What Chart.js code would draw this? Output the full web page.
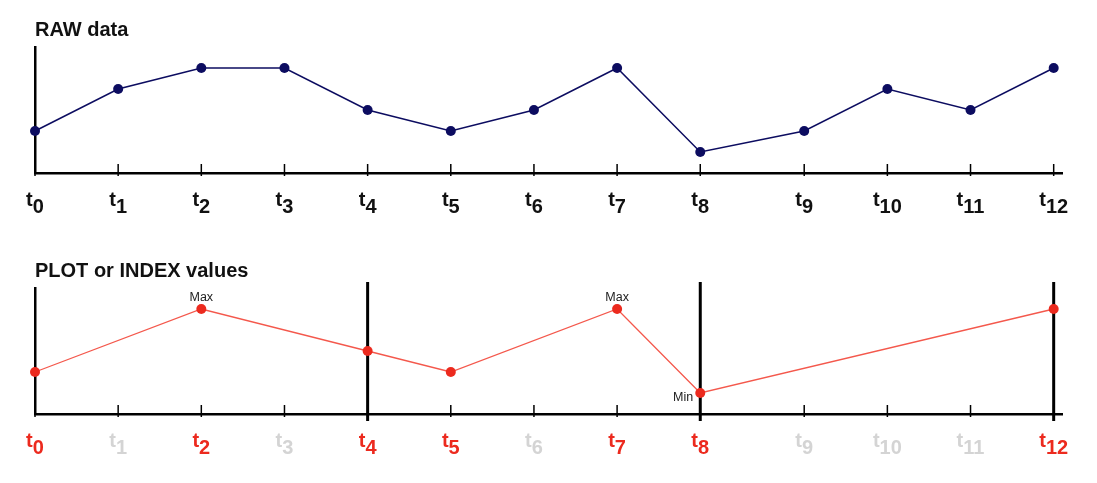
<!DOCTYPE html>
<html>
<head>
<meta charset="utf-8">
<script src="https://cdn.jsdelivr.net/npm/chart.js@4.4.0/dist/chart.umd.min.js"></script>
<style>
html, body { margin: 0; padding: 0; background: #fff; }
body { width: 1097px; height: 483px; position: relative; overflow: hidden; }
.box { position: absolute; left: 0; width: 1097px; height: 241px; }
</style>
</head>
<body>
<div class="box" style="top:0"><canvas id="rawChart" width="1097" height="241"></canvas></div>
<div class="box" style="top:241px"><canvas id="plotChart" width="1097" height="241"></canvas></div>
<script>
// time steps t0..t12 (t9 onwards sits a bit further right in the original)
var tickLabels = ['0', '1', '2', '3', '4', '5', '6', '7', '8', '9', '10', '11', '12'];
var tickPositions = [0, 1, 2, 3, 4, 5, 6, 7, 8, 9.25, 10.25, 11.25, 12.25];

// raw series and the plotted (index) subset
var rawValues = [1, 3, 4, 4, 2, 1, 2, 4, 0, 1, 3, 2, 4];
var plotValues = [1, null, 4, null, 2, 1, null, 4, 0, null, null, null, 4];
var plotMarkers = ['', '', 'Max', '', '', '', '', 'Max', 'Min', '', '', '', ''];
var dividerSteps = [4, 8, 12];

var FONT = "'Liberation Sans', Arial, Helvetica, sans-serif";

var tAxisPlugin = {
    id: 'tAxis',
    beforeDatasetsDraw: function (chart, args, opts) {
        var ctx = chart.ctx, xs = chart.scales.x, area = chart.chartArea;
        ctx.save();
        ctx.strokeStyle = '#000';
        ctx.lineWidth = 3;
        (opts.dividers || []).forEach(function (i) {
            var px = xs.getPixelForValue(tickPositions[i]);
            ctx.beginPath();
            ctx.moveTo(px, area.top - 6);
            ctx.lineTo(px, area.bottom + 7);
            ctx.stroke();
        });
        ctx.restore();
    },
    afterDraw: function (chart, args, opts) {
        var ctx = chart.ctx, xs = chart.scales.x, ys = chart.scales.y;
        var axisY = chart.chartArea.bottom;
        ctx.save();
        // tick marks
        ctx.strokeStyle = '#000';
        ctx.lineWidth = 1.5;
        tickPositions.forEach(function (v) {
            var px = xs.getPixelForValue(v);
            ctx.beginPath();
            ctx.moveTo(px, axisY - 9);
            ctx.lineTo(px, axisY + 3);
            ctx.stroke();
        });
        // t with subscript labels
        ctx.textAlign = 'left';
        ctx.textBaseline = 'alphabetic';
        tickLabels.forEach(function (num, i) {
            var px = xs.getPixelForValue(tickPositions[i]);
            ctx.font = 'bold 20px ' + FONT;
            var wT = ctx.measureText('t').width;
            var wN = ctx.measureText(num).width;
            var x0 = px - (wT + wN) / 2;
            ctx.fillStyle = opts.labelColor(i);
            ctx.fillText('t', x0, axisY + 33);
            ctx.fillText(num, x0 + wT, axisY + 40);
        });
        // Max / Min notes
        ctx.font = '12.5px ' + FONT;
        ctx.fillStyle = '#222';
        (opts.markers || []).forEach(function (m, i) {
            if (!m) return;
            var px = xs.getPixelForValue(tickPositions[i]);
            var py = ys.getPixelForValue(plotValues[i]);
            if (m === 'Min') {
                ctx.textAlign = 'right';
                ctx.fillText(m, px - 7, py + 8);
            } else {
                ctx.textAlign = 'center';
                ctx.fillText(m, px, py - 8.5);
            }
        });
        ctx.restore();
    }
};

function makeChart(id, title, values, lineColor, pointColor, lineWidth, axisOpts) {
    var ctx = document.getElementById(id).getContext('2d');
    return new Chart(ctx, {
        type: 'line',
        data: {
            datasets: [{
                label: title,
                data: tickPositions.map(function (x, i) { return { x: x, y: values[i] }; }),
                borderColor: lineColor,
                borderWidth: lineWidth,
                pointBackgroundColor: pointColor,
                pointBorderColor: pointColor,
                pointBorderWidth: 0,
                pointRadius: 5,
                spanGaps: true,
                tension: 0,
                clip: false
            }]
        },
        options: {
            responsive: false,
            animation: false,
            events: [],
            layout: {
                autoPadding: false,
                padding: { top: 18, left: 35, right: 35, bottom: 68 }
            },
            scales: {
                x: {
                    type: 'linear',
                    min: 0,
                    max: 12.35,
                    grid: { display: false },
                    ticks: { display: false },
                    border: { display: true, color: '#000', width: 2.5 },
                    afterFit: function (s) { s.height = 0; }
                },
                y: {
                    min: -1,
                    max: 5,
                    grid: { display: false },
                    ticks: { display: false },
                    border: { display: true, color: '#000', width: 2.5 },
                    afterFit: function (s) { s.width = 0; }
                }
            },
            plugins: {
                legend: { display: false },
                tooltip: { enabled: false },
                title: {
                    display: true,
                    text: title,
                    align: 'start',
                    color: '#111',
                    font: { family: FONT, size: 20, weight: 'bold' },
                    padding: { top: 0, bottom: 5 }
                },
                tAxis: axisOpts
            }
        },
        plugins: [tAxisPlugin]
    });
}

makeChart('rawChart', 'RAW data', rawValues, '#0c0c60', '#0c0c60', 1.5, {
    labelColor: function () { return '#111'; },
    dividers: [],
    markers: []
});

makeChart('plotChart', 'PLOT or INDEX values', plotValues, '#f4584c', '#ec2a1e', 1.3, {
    labelColor: function (i) { return plotValues[i] === null ? '#d4d4d4' : '#ec2a1e'; },
    dividers: dividerSteps,
    markers: plotMarkers
});
</script>
</body>
</html>
